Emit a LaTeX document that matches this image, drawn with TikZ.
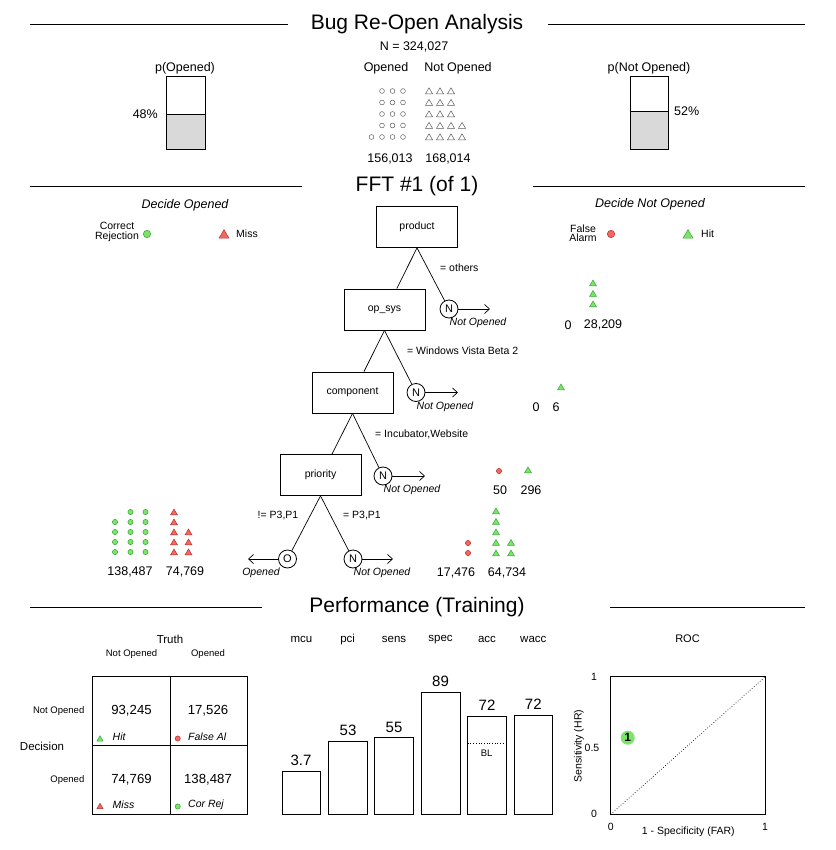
\documentclass[tikz,border=0pt]{standalone}
\usepackage{fontspec}
\setmainfont{Liberation Sans}
\usetikzlibrary{arrows.meta,calc}
\newcommand\fsz[1]{\fontsize{#1}{#1}\selectfont}
\definecolor{gfill}{RGB}{125,228,105}
\definecolor{gline}{RGB}{50,165,50}
\definecolor{rfill}{RGB}{240,105,95}
\definecolor{rline}{RGB}{190,45,45}
\definecolor{boxgray}{RGB}{217,217,217}
\definecolor{hollow}{RGB}{90,90,90}
\tikzset{
  secline/.style={line width=0.8pt},
  treebox/.style={draw, line width=0.8pt, minimum width=81pt, minimum height=41pt, inner sep=0pt, font=\fsz{10.5}},
  exitc/.style={draw, circle, line width=0.8pt, minimum size=18pt, inner sep=0pt, font=\fsz{11}},
  edge/.style={line width=0.7pt},
  exitarrow/.style={line width=0.7pt, -{Straight Barb[length=5pt,width=9pt]}},
  lbl/.style={inner sep=0pt, font=\fsz{10.5}},
  itl/.style={inner sep=0pt, font=\fsz{10.5}\itshape},
  big/.style={inner sep=0pt, font=\fsz{21}},
  mid/.style={inner sep=0pt, font=\fsz{12.5}},
  gicon/.style={fill=gfill, draw=gline, line width=0.5pt},
  ricon/.style={fill=rfill, draw=rline, line width=0.5pt},
  hicon/.style={draw=hollow, line width=0.5pt},
  frame/.style={line width=0.8pt},
}
\newcommand\gdot[3][2.6]{\path[gicon] (#2,#3) circle (#1pt);}
\newcommand\rdot[3][2.6]{\path[ricon] (#2,#3) circle (#1pt);}
\newcommand\hdot[2]{\path[hicon] (#1,#2) circle (2.4pt);}
\newcommand\gtri[3][1]{\path[gicon, shift={(#2,#3)}, scale=#1] (-3.4,2.8) -- (3.4,2.8) -- (0,-3.0) -- cycle;}
\newcommand\rtri[3][1]{\path[ricon, shift={(#2,#3)}, scale=#1] (-3.4,2.8) -- (3.4,2.8) -- (0,-3.0) -- cycle;}
\newcommand\htri[2]{\path[hicon, shift={(#1,#2)}] (-3.6,2.9) -- (3.6,2.9) -- (0,-3.1) -- cycle;}
\begin{document}
\begin{tikzpicture}[x=1pt,y=-1pt]
\useasboundingbox (0,0) rectangle (835,850);
% ---------- header ----------
\node[big] (title) at (417,24) {Bug Re-Open Analysis};
\draw[secline] (30,24) -- (288,24);
\draw[secline] (548,24) -- (805,24);
\node[mid] (ntot) at (414,47) {N = 324,027};
\node[mid] (hop) at (386,68) {Opened};
\node[mid] (hnop) at (458,68) {Not Opened};
\node[mid] (cop) at (390,159) {156,013};
\node[mid] (cnop) at (448,159) {168,014};
\foreach \y in {91,102.5,114,125.5,137} {\hdot{382}{\y}\hdot{392.5}{\y}\hdot{403}{\y}}
\hdot{371.5}{137}
\foreach \y in {91,102.5,114,125.5,137} {\htri{429}{\y}\htri{440}{\y}\htri{451}{\y}}
\foreach \y in {125.5,137} {\htri{462}{\y}}
% p boxes
\node[mid] (pop) at (185,68) {p(Opened)};
\fill[boxgray] (166.7,114) rectangle (205.3,149.3);
\draw[frame] (166.7,76) rectangle (205.3,149.3);
\draw[frame] (166.7,114) -- (205.3,114);
\node[mid, anchor=east] (p48) at (158,114) {48\%};
\node[mid] (pnop) at (649,68) {p(Not Opened)};
\fill[boxgray] (630,111.3) rectangle (668.3,149.3);
\draw[frame] (630,76.7) rectangle (668.3,149.3);
\draw[frame] (630,111.3) -- (668.3,111.3);
\node[mid, anchor=west] (p52) at (674,111) {52\%};
% ---------- FFT ----------
\node[big] (ffttitle) at (417,186) {FFT \#1 (of 1)};
\draw[secline] (30,186) -- (302,186);
\draw[secline] (533,186) -- (805,186);
\node[mid, font=\fsz{12.5}\itshape] (dop) at (185,205) {Decide Opened};
\node[mid, font=\fsz{12.5}\itshape] (dnop) at (650,204) {Decide Not Opened};
\node[lbl, align=center, font=\fsz{10.5}, inner sep=0pt] (corrrej) at (117,232) {Correct\\[-1pt]Rejection};
\gdot[3.7]{147}{234}
\rtri[1.45]{224}{234}
\node[lbl, anchor=west] (miss) at (236,234) {Miss};
\node[lbl, align=center] (falarm) at (583,233) {False\\[-1pt]Alarm};
\rdot[3.7]{611}{234}
\gtri[1.45]{688}{234}
\node[lbl, anchor=west] (hit) at (701,234) {Hit};
% tree nodes
\node[treebox] (product) at (417,227) {product};
\node[treebox] (opsys) at (384.5,309.5) {op\_sys};
\node[treebox] (comp) at (352.5,392.5) {component};
\node[treebox] (prio) at (320.5,475) {priority};
\node[exitc] (n1) at (449,309) {N};
\node[exitc] (n2) at (416,392.5) {N};
\node[exitc] (n3) at (383,476) {N};
\node[exitc] (o4) at (287.5,559) {O};
\node[exitc] (n4) at (353,559) {N};
\draw[edge] (product.south) -- ($(opsys.north west)!0.65!(opsys.north east)$);
\draw[edge] (product.south) -- (n1);
\draw[edge] (opsys.south) -- ($(comp.north west)!0.64!(comp.north east)$);
\draw[edge] (opsys.south) -- (n2);
\draw[edge] (comp.south) -- ($(prio.north west)!0.64!(prio.north east)$);
\draw[edge] (comp.south) -- (n3);
\draw[edge] (prio.south) -- (o4);
\draw[edge] (prio.south) -- (n4);
\coordinate (a1) at (490,309);
\coordinate (a2) at (458,392.5);
\coordinate (a3) at (425,476);
\coordinate (a4) at (248,559);
\coordinate (a5) at (393,559);
\draw[exitarrow] (n1) -- (a1);
\draw[exitarrow] (n2) -- (a2);
\draw[exitarrow] (n3) -- (a3);
\draw[exitarrow] (o4) -- (a4);
\draw[exitarrow] (n4) -- (a5);
\node[lbl, anchor=west] (c1) at (440,268) {= others};
\node[lbl, anchor=west] (c2) at (407,351) {= Windows Vista Beta 2};
\node[lbl, anchor=west] (c3) at (375,434) {= Incubator,Website};
\node[lbl] (c4) at (278,516) {!= P3,P1};
\node[lbl] (c5) at (362,516) {= P3,P1};
\node[itl] (e1) at (478,323) {Not Opened};
\node[itl] (e2) at (445,406.5) {Not Opened};
\node[itl] (e3) at (412,490) {Not Opened};
\node[itl] (e4) at (261,573) {Opened};
\node[itl] (e5) at (382,573) {Not Opened};
% leaf stats
\foreach \y in {283,293.5,304} {\gtri{593}{\y}}
\node[mid] (l1a) at (568,325) {0};
\node[mid] (l1b) at (603,325) {28,209};
\gtri{561}{387}
\node[mid] (l2a) at (536,407) {0};
\node[mid] (l2b) at (556,407) {6};
\rdot{499}{471}
\gtri{528}{470}
\node[mid] (l3a) at (500,490) {50};
\node[mid] (l3b) at (531,490) {296};
\rdot{468}{543}\rdot{468}{553}
\foreach \y in {511,521.5,532,542.5,553} {\gtri{496}{\y}}
\foreach \y in {542.5,553} {\gtri{511}{\y}}
\node[mid] (l4a) at (456,573) {17,476};
\node[mid] (l4b) at (507,573) {64,734};
\foreach \y in {522,532,542,552} {\gdot{115}{\y}}
\foreach \y in {512,522,532,542,552} {\gdot{130.5}{\y}\gdot{145.5}{\y}}
\foreach \y in {512,522,532,542,552} {\rtri{174}{\y}}
\foreach \y in {532,542,552} {\rtri{188.5}{\y}}
\node[mid] (l5a) at (130,572) {138,487};
\node[mid] (l5b) at (185,572) {74,769};
% ---------- performance ----------
\node[big] (perftitle) at (417,607) {Performance (Training)};
\draw[secline] (30,607) -- (262,607);
\draw[secline] (610,607) -- (805,607);
% confusion matrix
\node[lbl, font=\fsz{11.5}] (truth) at (170,639) {Truth};
\node[lbl, font=\fsz{9.5}] (tcol1) at (131.5,654) {Not Opened};
\node[lbl, font=\fsz{9.5}] (tcol2) at (208,654) {Opened};
\node[lbl, font=\fsz{9.5}, anchor=east] (drow1) at (84.5,711) {Not Opened};
\node[lbl, font=\fsz{9.5}, anchor=east] (drow2) at (84.5,780) {Opened};
\node[lbl, font=\fsz{11.5}] (decision) at (42,746) {Decision};
\draw[frame] (92.7,676.7) rectangle (247.7,814.3);
\draw[frame] (170,676.7) -- (170,814.3);
\draw[frame] (92.7,745.7) -- (247.7,745.7);
\node[lbl, font=\fsz{13.2}] (m11) at (131.5,711) {93,245};
\node[lbl, font=\fsz{13.2}] (m12) at (208,711) {17,526};
\node[lbl, font=\fsz{13.2}] (m21) at (131.5,780) {74,769};
\node[lbl, font=\fsz{13.2}] (m22) at (208,780) {138,487};
\gtri[0.9]{100}{738.5}
\node[itl, anchor=west] (mhit) at (112.5,737) {Hit};
\rdot{177.7}{738.5}
\node[itl, anchor=west] (mfa) at (188,737) {False Al};
\rtri[0.9]{100}{806}
\node[itl, anchor=west] (mmiss) at (112.5,805) {Miss};
\gdot{177.7}{806.5}
\node[itl, anchor=west] (mcr) at (188,804.5) {Cor Rej};
% bars
\foreach \nm/\cx in {mcu/301.5,pci/347.7,sens/394,spec/440.5,acc/487,wacc/533.3} {\node[lbl, font=\fsz{11.5}] (h\nm) at (\cx,639.5) {\nm};}
\draw[frame] (282.3,814.3) rectangle (320.7,771.3);
\draw[frame] (328.3,814.3) rectangle (367,741);
\draw[frame] (374.7,814.3) rectangle (413.3,737.7);
\draw[frame] (421,814.3) rectangle (460,692);
\draw[frame] (467.7,814.3) rectangle (506.3,716);
\draw[frame] (514,814.3) rectangle (552.7,715);
\draw[line width=0.7pt, dotted] (467.7,743.3) -- (506.3,743.3);
\node[lbl, font=\fsz{9.5}] (bl) at (486.7,753) {BL};
\node[lbl, font=\fsz{15}] (v1) at (301,760) {3.7};
\node[lbl, font=\fsz{15}] (v2) at (348,730) {53};
\node[lbl, font=\fsz{15}] (v3) at (394,727) {55};
\node[lbl, font=\fsz{15}] (v4) at (440.5,681) {89};
\node[lbl, font=\fsz{15}] (v5) at (487,705) {72};
\node[lbl, font=\fsz{15}] (v6) at (533.3,704) {72};
% ROC
\node[lbl, font=\fsz{11}] (roc) at (687.5,639) {ROC};
\draw[frame] (610.7,676.7) rectangle (765.3,814.3);
\draw[line width=0.7pt, dotted] (610.7,814.3) -- (765.3,676.7);
\node[lbl] (ty1) at (594,677) {1};
\node[lbl] (ty2) at (592,747.5) {0.5};
\node[lbl] (ty0) at (594,814) {0};
\node[lbl] (tx0) at (610.7,826.5) {0};
\node[lbl] (tx1) at (765,826.5) {1};
\node[lbl] (xlab) at (688.3,832) {1 - Specificity (FAR)};
\node[lbl, rotate=90] (ylab) at (579,746) {Sensitivity (HR)};
\node[circle, fill=gfill, minimum size=14pt, inner sep=0pt, font=\fsz{12}\bfseries] (rocpt) at (627.7,737.7) {1};
\end{tikzpicture}
\end{document}
